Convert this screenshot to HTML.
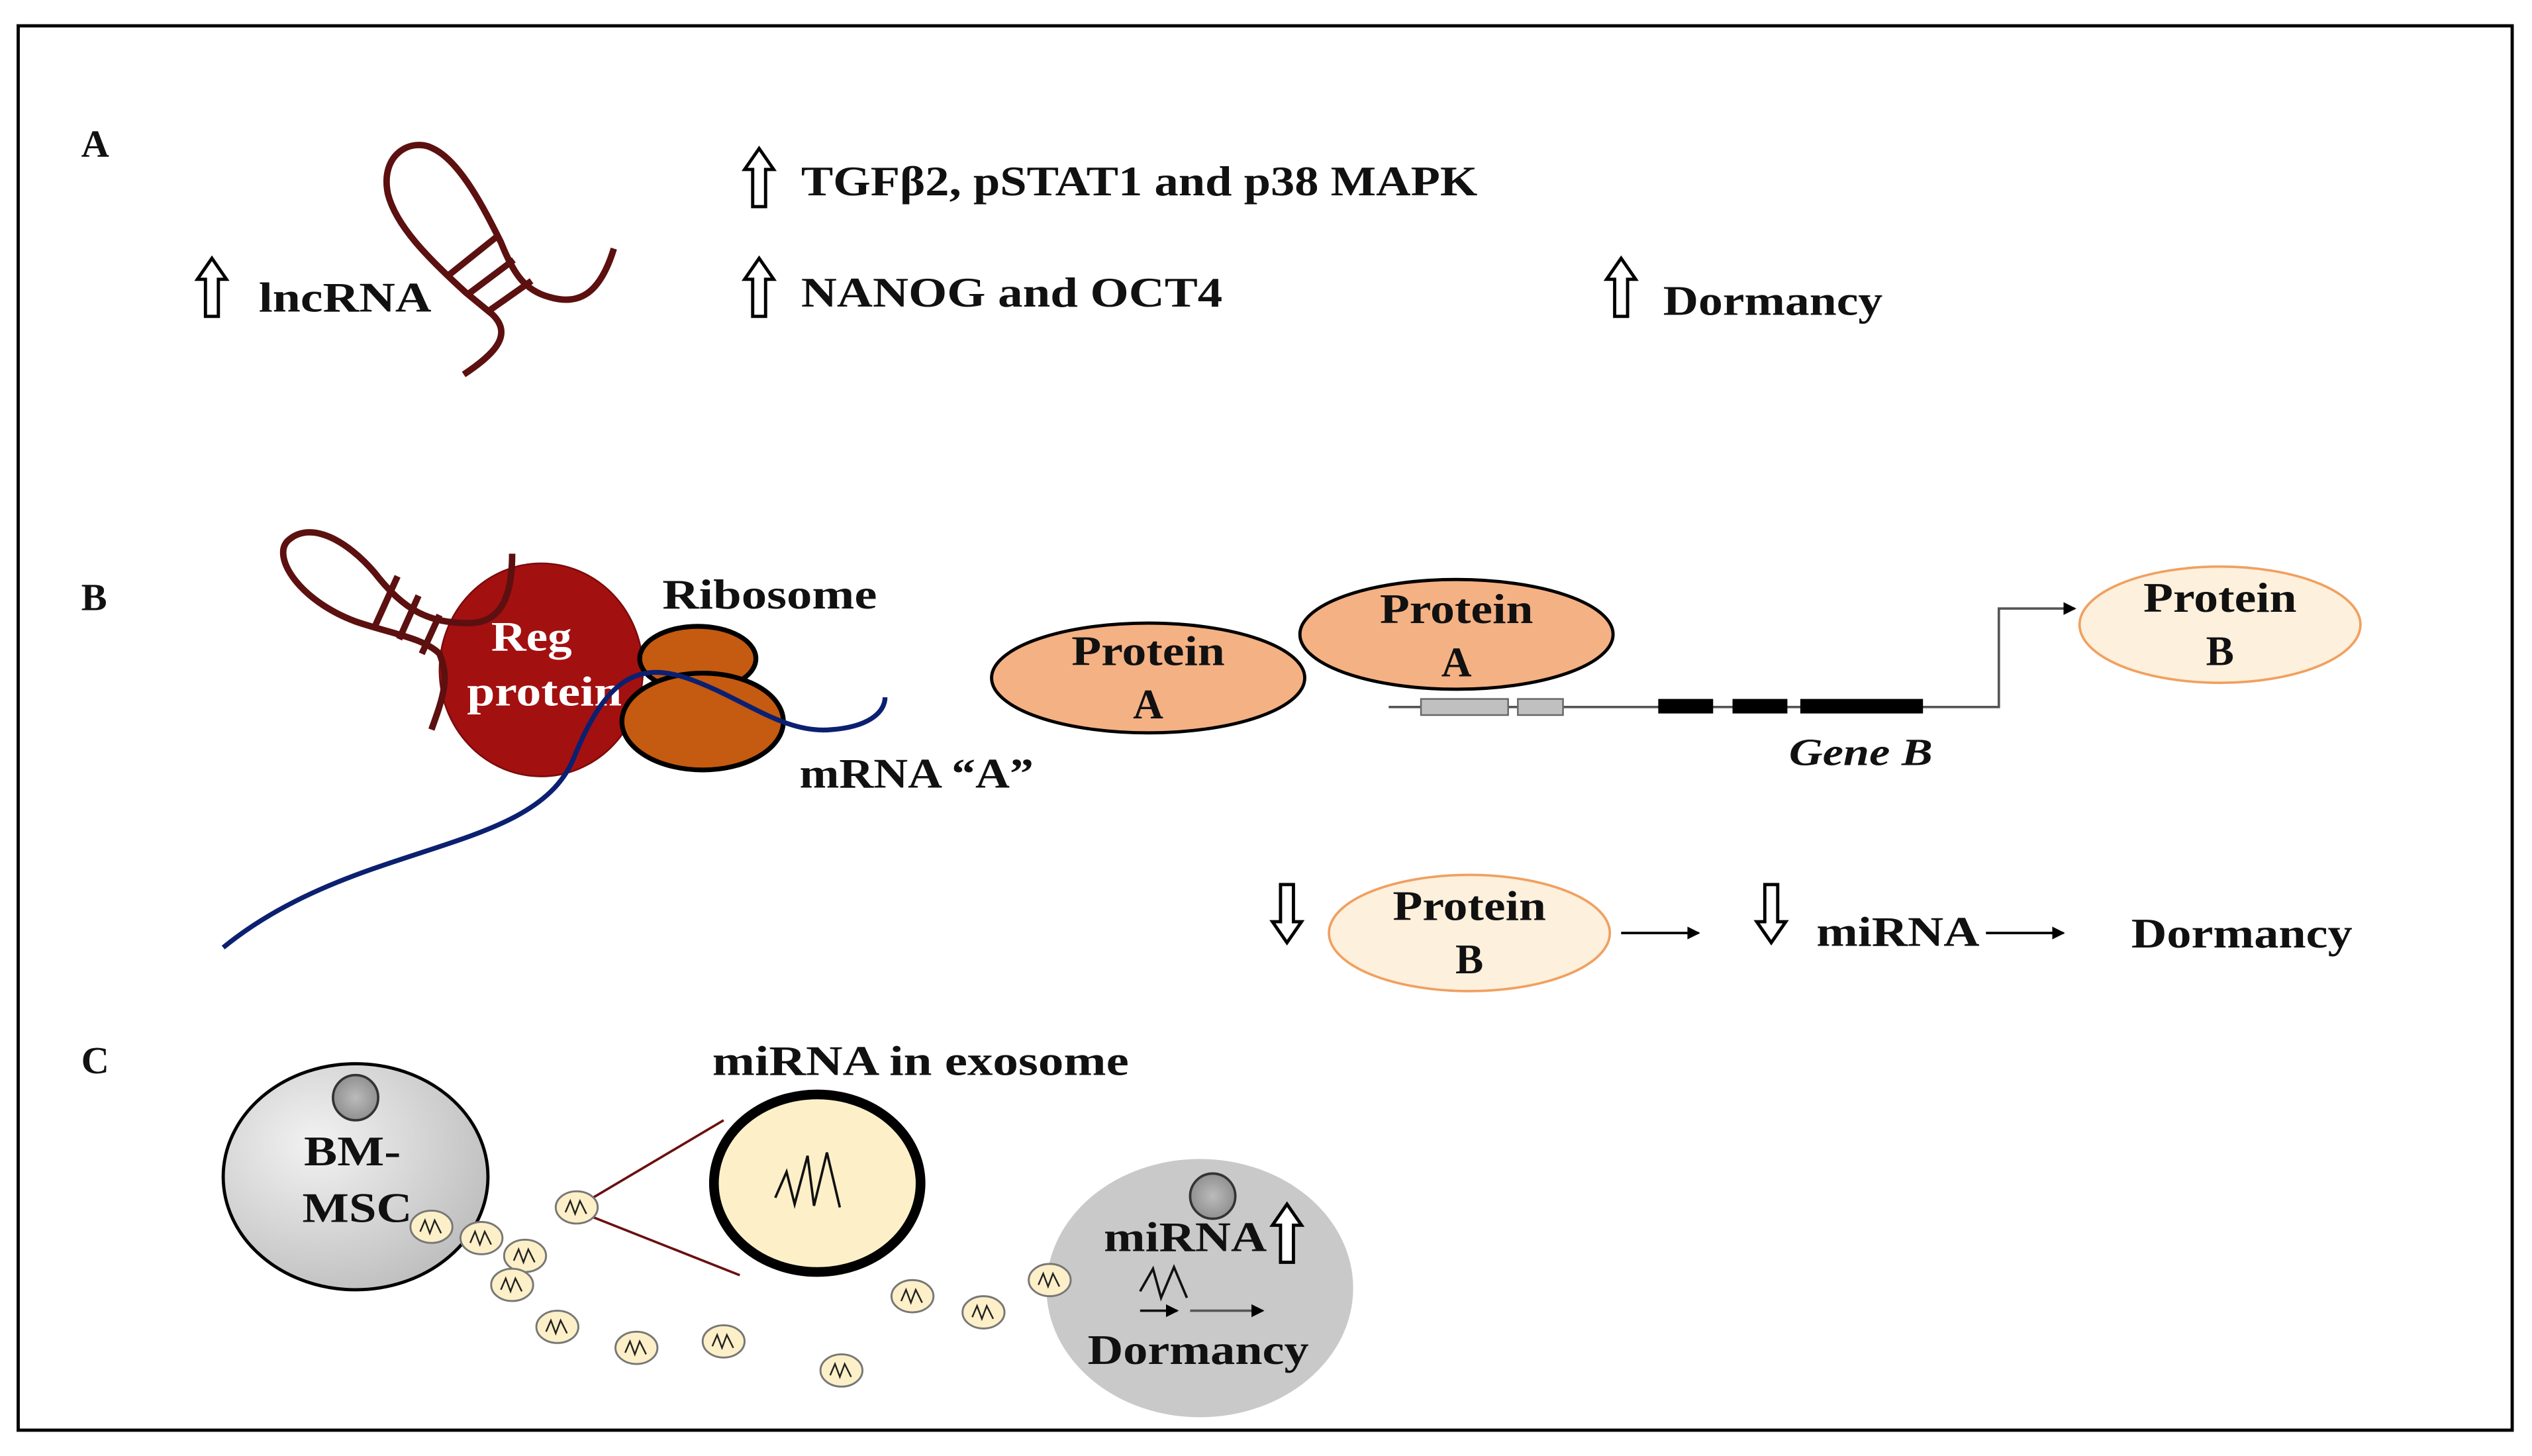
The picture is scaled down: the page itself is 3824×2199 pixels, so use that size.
<!DOCTYPE html>
<html><head><meta charset="utf-8"><style>
html,body{margin:0;padding:0;background:#fff;}
svg{display:block;}
text{font-family:"Liberation Serif",serif;font-weight:bold;fill:#111;}
</style></head><body>
<svg width="3824" height="2199" viewBox="0 0 1568 902" xmlns="http://www.w3.org/2000/svg">
<defs>
<path id="up" d="M0,0 L9,13 L4,13 L4,36 L-4,36 L-4,13 L-9,13 Z" fill="#fff" stroke="#000" stroke-width="2" stroke-linejoin="miter"/>
<g id="exo"><ellipse cx="0" cy="0" rx="13" ry="10" fill="#fdf0c8" stroke="#777" stroke-width="1.2"/><path d="M-7,3 L-4,-4 L-1,4 L2,-4 L6,4" fill="none" stroke="#222" stroke-width="1"/></g>
<radialGradient id="gcell" cx="0.35" cy="0.35" r="0.8"><stop offset="0" stop-color="#f2f2f2"/><stop offset="1" stop-color="#b8b8b8"/></radialGradient>
<radialGradient id="gnuc" cx="0.5" cy="0.5" r="0.6"><stop offset="0" stop-color="#bbb"/><stop offset="1" stop-color="#888"/></radialGradient>
<marker id="ah" markerWidth="8" markerHeight="8" refX="7" refY="4" orient="auto" markerUnits="userSpaceOnUse"><path d="M0,0 L8,4 L0,8 Z" fill="#000"/></marker>
</defs>
<rect x="11" y="16" width="1545" height="870" fill="#fff" stroke="#000" stroke-width="2"/>

<!-- Section A -->
<text x="50" y="97" font-size="24">A</text>
<use href="#up" x="131" y="160"/>
<text x="160" y="193" font-size="26" textLength="107" lengthAdjust="spacingAndGlyphs">lncRNA</text>
<g fill="none" stroke="#5c1010" stroke-width="4" stroke-linecap="butt">
<path d="M287,232 C305,220 318,208 305,195 L288,181 C265,160 245,140 240,120 C235,95 255,85 268,92 C285,100 300,130 310,150 C318,170 325,180 340,184 C360,190 372,180 380,154"/>
<path d="M277,171 L307,147 M290,182 L318,161 M302,193 L329,174"/>
</g>
<use href="#up" x="470" y="92"/>
<text x="496" y="121" font-size="26" textLength="419" lengthAdjust="spacingAndGlyphs">TGFβ2, pSTAT1 and p38 MAPK</text>
<use href="#up" x="470" y="160"/>
<text x="496" y="190" font-size="26" textLength="261" lengthAdjust="spacingAndGlyphs">NANOG and OCT4</text>
<use href="#up" x="1004" y="160"/>
<text x="1030" y="195" font-size="26" textLength="136" lengthAdjust="spacingAndGlyphs">Dormancy</text>

<!-- Section B -->
<text x="50" y="378" font-size="24">B</text>
<ellipse cx="335" cy="415" rx="63" ry="66" fill="#a31010" stroke="#7a0a0a" stroke-width="1"/>
<g fill="none" stroke="#5c1010" stroke-width="4">
<path d="M267,452 C275,430 278,420 272,405 C262,395 240,392 220,385 C185,372 168,345 178,335 C192,322 215,335 232,355 C250,378 265,386 290,386 C310,386 317,370 317,343"/>
<path d="M232,388 L246,357 M247,396 L259,369 M261,405 L272,381"/>
</g>
<text x="329" y="403" font-size="26" text-anchor="middle" style="fill:#fff" textLength="50" lengthAdjust="spacingAndGlyphs">Reg</text>
<text x="337" y="437" font-size="26" text-anchor="middle" style="fill:#fff" textLength="96" lengthAdjust="spacingAndGlyphs">protein</text>
<ellipse cx="432" cy="408" rx="36" ry="20" fill="#c55a11" stroke="#000" stroke-width="3"/>
<ellipse cx="435" cy="447" rx="50" ry="30" fill="#c55a11" stroke="#000" stroke-width="3"/>
<path d="M138,587 C220,520 330,530 355,470 C375,420 395,410 425,420 C460,432 485,455 515,452 C540,450 548,440 548,432" fill="none" stroke="#0b2070" stroke-width="3"/>
<text x="410" y="377" font-size="26" textLength="133" lengthAdjust="spacingAndGlyphs">Ribosome</text>
<text x="495" y="488" font-size="26" textLength="145" lengthAdjust="spacingAndGlyphs">mRNA “A”</text>

<ellipse cx="711" cy="420" rx="97" ry="34" fill="#f4b183" stroke="#000" stroke-width="2"/>
<text x="711" y="412" font-size="26" text-anchor="middle" textLength="95" lengthAdjust="spacingAndGlyphs">Protein</text>
<text x="711" y="445" font-size="26" text-anchor="middle">A</text>
<ellipse cx="902" cy="393" rx="97" ry="34" fill="#f4b183" stroke="#000" stroke-width="2"/>
<text x="902" y="386" font-size="26" text-anchor="middle" textLength="95" lengthAdjust="spacingAndGlyphs">Protein</text>
<text x="902" y="419" font-size="26" text-anchor="middle">A</text>

<path d="M860,438 L1238,438 L1238,377 L1285,377" fill="none" stroke="#555" stroke-width="1.5" marker-end="url(#ah)"/>
<rect x="880" y="433" width="54" height="10" fill="#c0c0c0" stroke="#666" stroke-width="1"/>
<rect x="940" y="433" width="28" height="10" fill="#c0c0c0" stroke="#666" stroke-width="1"/>
<rect x="1027" y="433" width="34" height="9" fill="#000"/>
<rect x="1073" y="433" width="34" height="9" fill="#000"/>
<rect x="1115" y="433" width="76" height="9" fill="#000"/>
<text x="1108" y="474" font-size="24" font-style="italic" textLength="89" lengthAdjust="spacingAndGlyphs">Gene B</text>

<ellipse cx="1375" cy="387" rx="87" ry="36" fill="#fdf0dc" stroke="#f0a060" stroke-width="1.5"/>
<text x="1375" y="379" font-size="26" text-anchor="middle" textLength="95" lengthAdjust="spacingAndGlyphs">Protein</text>
<text x="1375" y="412" font-size="26" text-anchor="middle">B</text>

<use href="#up" transform="translate(797,584) rotate(180)"/>
<ellipse cx="910" cy="578" rx="87" ry="36" fill="#fdf0dc" stroke="#f0a060" stroke-width="1.5"/>
<text x="910" y="570" font-size="26" text-anchor="middle" textLength="95" lengthAdjust="spacingAndGlyphs">Protein</text>
<text x="910" y="603" font-size="26" text-anchor="middle">B</text>
<path d="M1004,578 L1052,578" stroke="#000" stroke-width="1.5" marker-end="url(#ah)"/>
<use href="#up" transform="translate(1097,584) rotate(180)"/>
<text x="1125" y="586" font-size="26" textLength="101" lengthAdjust="spacingAndGlyphs">miRNA</text>
<path d="M1230,578 L1278,578" stroke="#000" stroke-width="1.5" marker-end="url(#ah)"/>
<text x="1320" y="587" font-size="26" textLength="137" lengthAdjust="spacingAndGlyphs">Dormancy</text>

<!-- Section C -->
<text x="50" y="665" font-size="24">C</text>
<text x="441" y="666" font-size="26" textLength="258" lengthAdjust="spacingAndGlyphs">miRNA in exosome</text>
<ellipse cx="220" cy="729" rx="82" ry="70" fill="url(#gcell)" stroke="#000" stroke-width="2"/>
<circle cx="220" cy="680" r="14" fill="url(#gnuc)" stroke="#333" stroke-width="1.5"/>
<text x="218" y="722" font-size="26" text-anchor="middle" textLength="60" lengthAdjust="spacingAndGlyphs">BM-</text>
<text x="221" y="757" font-size="26" text-anchor="middle" textLength="68" lengthAdjust="spacingAndGlyphs">MSC</text>

<ellipse cx="743" cy="798" rx="95" ry="80" fill="#c9c9c9"/>
<circle cx="751" cy="741" r="14" fill="url(#gnuc)" stroke="#333" stroke-width="1.5"/>
<text x="734" y="775" font-size="26" text-anchor="middle" textLength="101" lengthAdjust="spacingAndGlyphs">miRNA</text>
<use href="#up" x="797" y="746"/>
<path d="M706,800 L714,786 L719,804 L727,785 L735,804" fill="none" stroke="#111" stroke-width="1.5"/>
<path d="M706,812 L729,812" stroke="#111" stroke-width="1.5" marker-end="url(#ah)"/>
<path d="M737,812 L782,812" stroke="#555" stroke-width="1.5" marker-end="url(#ah)"/>
<text x="742" y="845" font-size="26" text-anchor="middle" textLength="137" lengthAdjust="spacingAndGlyphs">Dormancy</text>

<path d="M367,742 L448,694 M367,754 L458,790" stroke="#6b1010" stroke-width="1.5"/>
<ellipse cx="506" cy="733" rx="64" ry="55" fill="#fdf0c8" stroke="#000" stroke-width="6"/>
<path d="M480,742 L487,726 L492,746 L500,716 L504,747 L512,714 L520,748" fill="none" stroke="#111" stroke-width="1.5"/>

<use href="#exo" x="267" y="760"/>
<use href="#exo" x="298" y="767"/>
<use href="#exo" x="325" y="778"/>
<use href="#exo" x="317" y="796"/>
<use href="#exo" x="357" y="748"/>
<use href="#exo" x="345" y="822"/>
<use href="#exo" x="394" y="835"/>
<use href="#exo" x="448" y="831"/>
<use href="#exo" x="521" y="849"/>
<use href="#exo" x="565" y="803"/>
<use href="#exo" x="609" y="813"/>
<use href="#exo" x="650" y="793"/>
</svg>
</body></html>
